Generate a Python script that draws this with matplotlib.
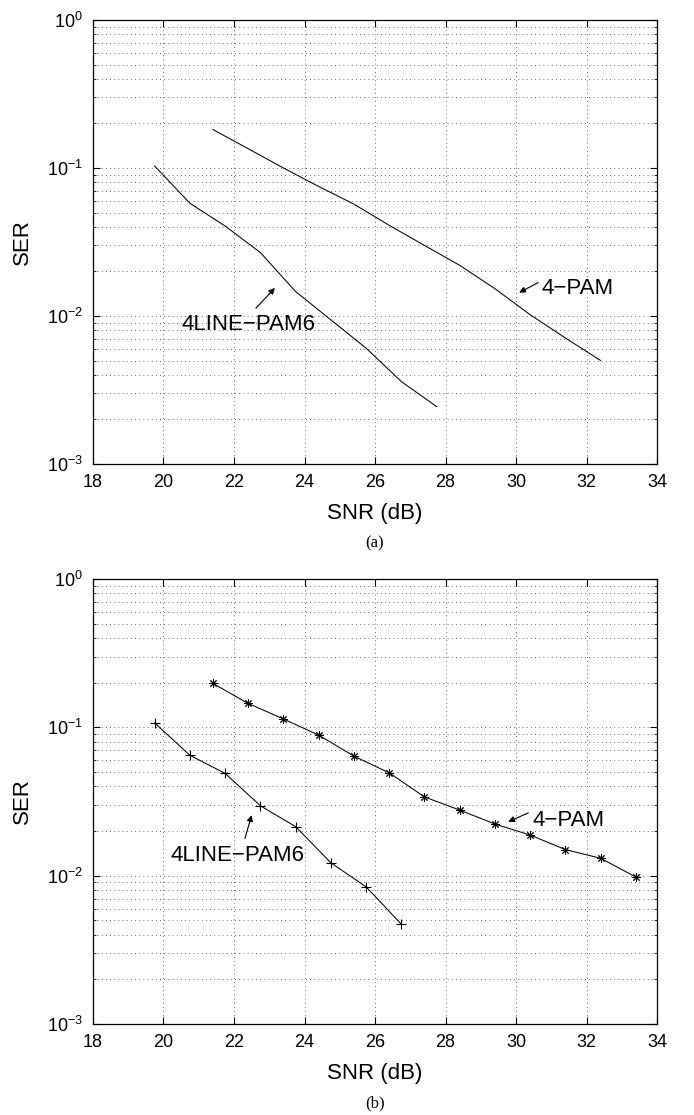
import numpy as np
import matplotlib
matplotlib.use("Agg")
import matplotlib.pyplot as plt
from matplotlib.ticker import LogLocator, FixedLocator, NullFormatter

plt.rcParams['font.family'] = ['Liberation Sans', 'DejaVu Sans']
plt.rcParams['mathtext.fontset'] = 'custom'
plt.rcParams['mathtext.rm'] = 'Liberation Sans'
plt.rcParams['mathtext.it'] = 'Liberation Sans'
plt.rcParams['axes.unicode_minus'] = True

# panel (a): curves only
snr_pam4_a = [21.4, 22.4, 23.4, 24.4, 25.4, 26.4, 27.4, 28.4, 29.4, 30.4, 31.4, 32.4]
ser_pam4_a = [0.182, 0.135, 0.100, 0.075, 0.057, 0.041, 0.030, 0.022, 0.0153, 0.0102, 0.0071, 0.0050]
snr_pam6_a = [19.75, 20.75, 21.75, 22.75, 23.75, 24.75, 25.75, 26.75, 27.75]
ser_pam6_a = [0.103, 0.0577, 0.0405, 0.0268, 0.0146, 0.0094, 0.00605, 0.0036, 0.00244]

# panel (b): curves with markers
snr_pam4_b = [21.4, 22.4, 23.4, 24.4, 25.4, 26.4, 27.4, 28.4, 29.4, 30.4, 31.4, 32.4, 33.4]
ser_pam4_b = [0.198, 0.145, 0.114, 0.0887, 0.064, 0.0494, 0.034, 0.0277, 0.0223, 0.0188, 0.0150, 0.0131, 0.0098]
snr_pam6_b = [19.75, 20.75, 21.75, 22.75, 23.75, 24.75, 25.75, 26.75]
ser_pam6_b = [0.107, 0.0648, 0.0489, 0.0296, 0.0214, 0.0122, 0.0084, 0.0047]

xticks = [18, 20, 22, 24, 26, 28, 30, 32, 34]

# label text: (text left/centre, arrow tail, arrow head)
labels_a = {
    '4LINE\u2212PAM6': ((20.52, 0.00869), (22.62, 0.01127), (23.16, 0.01546)),
    '4\u2212PAM': ((30.73, 0.01538), (30.63, 0.0168), (30.09, 0.01438)),
}
labels_b = {
    '4LINE\u2212PAM6': ((20.20, 0.0136), (22.31, 0.0178), (22.50, 0.0256)),
    '4\u2212PAM': ((30.47, 0.0237), (30.35, 0.0265), (29.78, 0.0231)),
}

fig = plt.figure(figsize=(6.94, 11.15), dpi=100)
ax_a = fig.add_axes([0.134, 0.5839, 0.8127, 0.3982])
ax_b = fig.add_axes([0.134, 0.0816, 0.8127, 0.3991])


def style_axes(ax):
    ax.set_yscale('log')
    ax.set_xlim(18, 34)
    ax.set_ylim(1e-3, 1)
    ax.xaxis.set_major_locator(FixedLocator(xticks))
    ax.yaxis.set_major_locator(LogLocator(base=10, numticks=10))
    ax.yaxis.set_minor_locator(LogLocator(base=10, subs=np.arange(2, 10), numticks=20))
    ax.yaxis.set_minor_formatter(NullFormatter())
    ax.tick_params(which='both', direction='in', top=True, right=True, labelsize=13)
    ax.tick_params(which='major', length=5, width=0.8)
    ax.tick_params(which='minor', length=2.5, width=0.6)
    ax.tick_params(axis='x', pad=7.5)
    ax.tick_params(axis='y', pad=7.5)
    grid_kw = dict(linestyle=(0, (1, 4)), color='#333333', linewidth=0.6)
    ax.grid(True, which='major', axis='both', **grid_kw)
    ax.grid(True, which='minor', axis='y', **grid_kw)
    for s in ax.spines.values():
        s.set_linewidth(0.9)
    ax.set_xlabel('SNR (dB)', fontsize=16)
    ax.set_ylabel('SER', fontsize=16)
    ax.xaxis.set_label_coords(0.5, -0.088)
    ax.yaxis.set_label_coords(-0.106, 0.5)


def add_labels(ax, labels):
    for txt, (pos, tail, head) in labels.items():
        ax.text(pos[0], pos[1], txt, fontsize=16, ha='left', va='center')
        ax.annotate('', xy=head, xytext=tail,
                    arrowprops=dict(arrowstyle='-|>', color='black', lw=0.8,
                                    mutation_scale=9, shrinkA=0, shrinkB=0))


style_axes(ax_a)
ax_a.plot(snr_pam4_a, ser_pam4_a, color='black', linewidth=0.75)
ax_a.plot(snr_pam6_a, ser_pam6_a, color='black', linewidth=0.75)
add_labels(ax_a, labels_a)

style_axes(ax_b)
ax_b.plot(snr_pam4_b, ser_pam4_b, color='black', linewidth=0.75,
          marker=(8, 2, 0), markersize=6, markeredgewidth=0.7)
ax_b.plot(snr_pam6_b, ser_pam6_b, color='black', linewidth=0.75,
          marker='+', markersize=7, markeredgewidth=0.8)
add_labels(ax_b, labels_b)

fig.text(375 / 694, 1 - 543 / 1115, '(a)', fontsize=12, family='Liberation Serif',
         ha='center', va='center')
fig.text(375 / 694, 1 - 1103 / 1115, '(b)', fontsize=12, family='Liberation Serif',
         ha='center', va='center')

fig.savefig('out.png', dpi=100)
